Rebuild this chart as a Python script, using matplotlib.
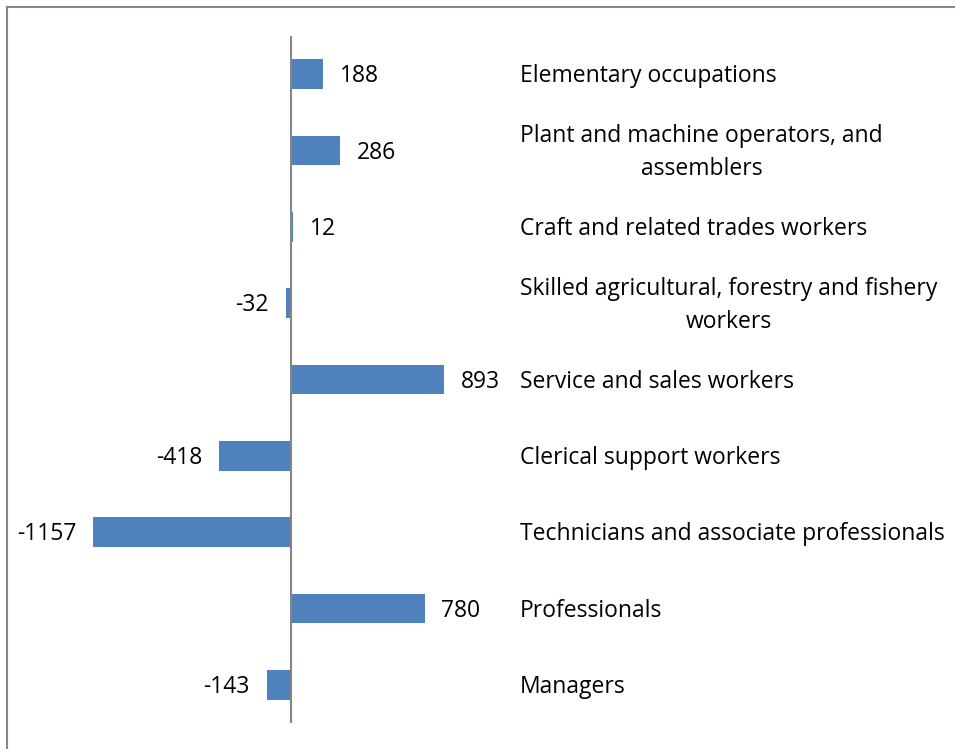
import matplotlib
matplotlib.use("Agg")
import matplotlib.pyplot as plt
from matplotlib.transforms import blended_transform_factory, offset_copy
from matplotlib.lines import Line2D

categories = [
    "Managers",
    "Professionals",
    "Technicians and associate professionals",
    "Clerical support workers",
    "Service and sales workers",
    "Skilled agricultural, forestry and fishery\nworkers",
    "Craft and related trades workers",
    "Plant and machine operators, and\nassemblers",
    "Elementary occupations",
]
values = [-143, 780, -1157, -418, 893, -32, 12, 286, 188]

plt.rcParams['font.family'] = ['Open Sans', 'DejaVu Sans']
FS = 16.5

fig = plt.figure(figsize=(9.55, 7.49), dpi=100)
W, H = 955, 749
ax = fig.add_axes([0, 1 - 723 / H, 1, 687 / H])
scale = 0.1712  # px per unit
ax.set_xlim(-291 / scale, (W - 291) / scale)
ax.set_ylim(-0.5, len(categories) - 0.5)
ax.axis('off')

ypos = list(range(len(categories)))
ax.barh(ypos, values, height=0.39, color='#4F81BD', zorder=2)
ax.axvline(0, color='#868686', lw=1.5, zorder=3)

for y, v in zip(ypos, values):
    if v >= 0:
        ax.annotate(str(v), (v, y), xytext=(12, -1.5), textcoords='offset points',
                    ha='left', va='center', fontsize=FS)
    else:
        ax.annotate(str(v), (v, y), xytext=(-12, -1.5), textcoords='offset points',
                    ha='right', va='center', fontsize=FS)

tr = blended_transform_factory(fig.transFigure, ax.transData)
tr = offset_copy(tr, fig=fig, x=0, y=-1.5, units='points')
for y, c in zip(ypos, categories):
    ax.text(520 / W, y, c, transform=tr, ha='left', va='center',
            multialignment='center', fontsize=FS, linespacing=1.5)

# frame lines (left and top)
fig.add_artist(Line2D([6.5 / W, 6.5 / W], [0, 1 - 7 / H], transform=fig.transFigure,
                      color='#868686', lw=1.5))
fig.add_artist(Line2D([6.5 / W, 1], [1 - 7 / H, 1 - 7 / H], transform=fig.transFigure,
                      color='#868686', lw=1.5))

fig.savefig('out.png', dpi=100)
